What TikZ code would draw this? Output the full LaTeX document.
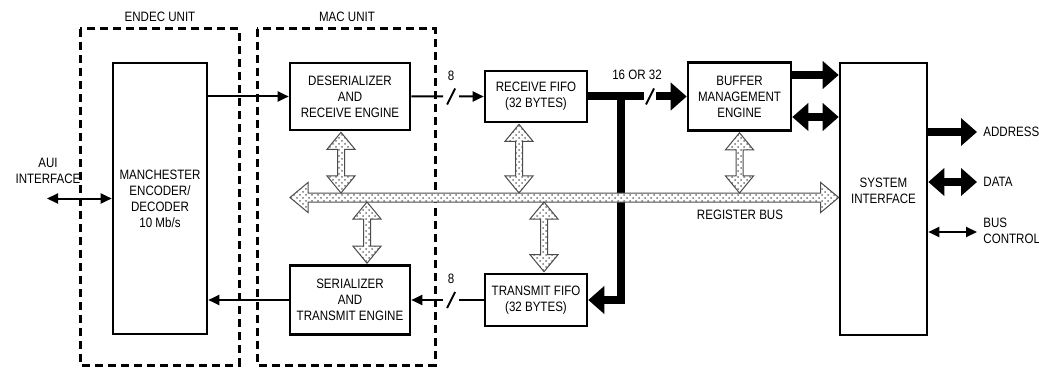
\documentclass[tikz,border=0pt]{standalone}
\usepackage{fontspec}
\setmainfont{Liberation Sans}[FakeStretch=0.85]
\usetikzlibrary{arrows.meta,calc,patterns}
\newcommand{\blkfont}{\fontsize{6.8}{8}\selectfont}
\tikzset{> = {Triangle[width=5pt,length=5.5pt]}, fattip/.tip={Triangle[width=13.5pt,length=8pt]}}
\tikzset{
	blk/.style={draw, line width=1.3pt, align=center, inner sep=0pt, font=\blkfont},
	lbl/.style={inner sep=0pt, align=center, font=\blkfont},
	unitbox/.style={line width=1.5pt, dash pattern=on 4pt off 2.5pt},
	thinline/.style={line width=1pt},
	fatline/.style={line width=4pt},
	regbus/.style={draw=black!70, line width=0.5pt, preaction={fill=white}, pattern=crosshatch dots, pattern color=black!55}
}
% hatched register bus arrows
\newcommand{\regh}[2]{\draw[regbus] (#1) -- ($(#1)+(18,-15)$) -- ($(#1)+(18,-4.5)$) -- ($(#2)+(-18,-4.5)$) -- ($(#2)+(-18,-15)$) -- (#2) -- ($(#2)+(-18,15)$) -- ($(#2)+(-18,4.5)$) -- ($(#1)+(18,4.5)$) -- ($(#1)+(18,15)$) -- cycle;}
\newcommand{\regv}[2]{\draw[regbus] (#1) -- ($(#1)+(14,17)$) -- ($(#1)+(3.5,17)$) -- ($(#2)+(3.5,-17)$) -- ($(#2)+(14,-17)$) -- (#2) -- ($(#2)+(-14,-17)$) -- ($(#2)+(-3.5,-17)$) -- ($(#1)+(-3.5,17)$) -- ($(#1)+(-14,17)$) -- cycle;}

\begin{document}
\begin{tikzpicture}[x=0.5pt,y=-0.5pt]
	\useasboundingbox (0,0) rectangle (1039,369);
	% units
	\draw[unitbox] (80,29) rectangle (239,365);
	\draw[unitbox] (257,29) rectangle (435,365);
	\node[lbl] (endec) at (160,17) {ENDEC UNIT};
	\node[lbl] (mac) at (347,17) {MAC UNIT};
	% blocks
	\node[blk, minimum width=47pt, minimum height=135.5pt] (mcd) at (160,198.5) {MANCHESTER\\ENCODER/\\DECODER\\10 Mb/s};
	\node[blk, minimum width=60pt, minimum height=33.5pt] (des) at (350,96.5) {DESERIALIZER\\AND\\RECEIVE ENGINE};
	\node[blk, minimum width=60pt, minimum height=34.5pt] (ser) at (350,300) {SERIALIZER\\AND\\TRANSMIT ENGINE};
	\node[blk, minimum width=51pt, minimum height=25.5pt] (rxf) at (536,96.5) {RECEIVE FIFO\\(32 BYTES)};
	\node[blk, minimum width=51pt, minimum height=26pt] (txf) at (536,300) {TRANSMIT FIFO\\(32 BYTES)};
	\node[blk, minimum width=51.5pt, minimum height=34pt] (bme) at (739.5,96.5) {BUFFER\\MANAGEMENT\\ENGINE};
	\node[blk, minimum width=43.5pt, minimum height=136pt] (sys) at (883.5,199) {SYSTEM\\INTERFACE\\\mbox{}};
	% labels
	\node[lbl] (auil) at (48,171) {AUI\\INTERFACE};
	\node[lbl] (w8a) at (451,76) {8};
	\node[lbl] (w8b) at (451,279) {8};
	\node[lbl] (w16) at (637,75) {16 OR 32};
	\node[lbl] (rbl) at (740,215) {REGISTER BUS};
	\node[lbl, anchor=west] (addr) at (983,132) {ADDRESS};
	\node[lbl, anchor=west] (data) at (983,182) {DATA};
	\node[lbl, anchor=west, align=left] (bctl) at (983,231) {BUS\\CONTROL};
	% serial paths
	\coordinate (aui) at (47,198.5);
	\draw[thinline,<->] (aui) -- (mcd.west);
	\draw[thinline,->] (mcd.east |- des.west) -- (des.west);
	\draw[thinline,->] (ser.west) -- (mcd.east |- ser.west);
	% 8 bit paths
	\coordinate (s8a) at ($(des.east)!0.55!(rxf.west)$);
	\draw[thinline] (des.east) -- ($(s8a)+(-8,0)$);
	\draw[thinline,->] ($(s8a)+(8,0)$) -- (rxf.west);
	\draw[thinline] ($(s8a)+(-4,8)$) -- ($(s8a)+(4,-8)$);
	\coordinate (s8b) at ($(ser.east)!0.55!(txf.west)$);
	\draw[thinline] (txf.west) -- ($(s8b)+(8,0)$);
	\draw[thinline,->] ($(s8b)+(-8,0)$) -- (ser.east);
	\draw[thinline] ($(s8b)+(-4,8)$) -- ($(s8b)+(4,-8)$);
	% wide data path
	\coordinate (s16) at (650,96.5);
	\coordinate (tee) at (621,96.5);
	\draw[fatline] (rxf.east) -- ($(s16)+(-6,0)$);
	\draw[fatline,-fattip] ($(s16)+(6,0)$) -- (bme.west);
	\draw[thinline] ($(s16)+(-4,8)$) -- ($(s16)+(4,-8)$);
	\draw[fatline,-fattip] (tee) |- (txf.east);
	\coordinate (b1) at ($(bme.east)+(0,-21.5)$);
	\coordinate (b2) at ($(bme.east)+(0,20.5)$);
	\draw[fatline,-fattip] (b1) -- (b1 -| sys.west);
	\draw[fatline,fattip-fattip] (b2) -- (b2 -| sys.west);
	% system side
	\coordinate (adr) at (977,132);
	\coordinate (dat) at (977,182);
	\coordinate (bct) at (977,232);
	\draw[fatline,-fattip] (sys.east |- adr) -- (adr);
	\draw[fatline,fattip-fattip] (sys.east |- dat) -- (dat);
	\draw[thinline,<->] (sys.east |- bct) -- (bct);
	% register bus
	\coordinate (busl) at (290,197.5);
	\coordinate (busr) at (sys.west |- busl);
	\regh{busl}{busr}
	\coordinate (v1t) at ($(des.south)+(-9,1)$);
	\coordinate (v1b) at (v1t |- 0,193);
	\coordinate (v2b) at ($(ser.north)+(17,-1)$);
	\coordinate (v2t) at (v2b |- 0,202);
	\coordinate (v3t) at ($(rxf.south)+(-17,1)$);
	\coordinate (v3b) at (v3t |- 0,193);
	\coordinate (v4b) at ($(txf.north)+(8,-1)$);
	\coordinate (v4t) at (v4b |- 0,202);
	\coordinate (v5t) at ($(bme.south)+(0,1)$);
	\coordinate (v5b) at (v5t |- 0,193);
	\regv{v1t}{v1b}
	\regv{v2t}{v2b}
	\regv{v3t}{v3b}
	\regv{v4t}{v4b}
	\regv{v5t}{v5b}
\end{tikzpicture}
\end{document}
